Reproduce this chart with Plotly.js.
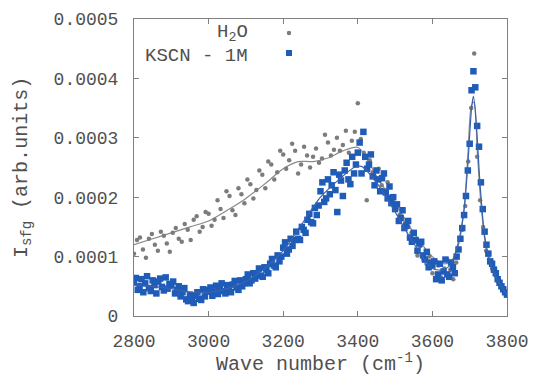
<!DOCTYPE html>
<html>
<head>
<meta charset="utf-8">
<script src="https://cdn.plot.ly/plotly-3.0.1.min.js"></script>
<style>html,body{margin:0;padding:0;background:#fff;}#plot{width:536px;height:376px;}</style>
</head>
<body>
<div id="plot"></div>
<script>
// Values in units of 1e-4 (arb. units)
const kscnStart = 2800, kscnStep = 5;
const kscnY = [
0.57,0.64,0.44,0.50,0.62,0.40,0.55,0.67,0.47,0.42,0.60,0.52,0.38,0.58,0.63,0.49,0.43,0.65,0.46,0.54,
0.52,0.58,0.38,0.44,0.50,0.33,0.40,0.47,0.28,0.25,0.36,0.30,0.22,0.34,0.40,0.29,0.27,0.45,0.33,0.41,
0.44,0.48,0.34,0.40,0.51,0.37,0.45,0.55,0.42,0.38,0.52,0.47,0.40,0.53,0.59,0.48,0.44,0.60,0.50,0.55,
0.62,0.70,0.55,0.60,0.72,0.63,0.70,0.80,0.68,0.66,0.82,0.78,0.72,0.88,0.96,0.85,0.82,1.02,0.92,1.00,
1.15,1.24,1.05,1.12,1.30,1.18,1.28,1.42,1.30,1.28,1.50,1.45,1.40,1.62,1.72,1.58,1.56,1.82,1.70,1.86,
2.10,2.25,1.92,1.98,2.30,2.05,2.20,2.42,2.12,1.75,2.38,2.28,2.02,2.45,2.58,2.30,2.22,2.68,2.40,2.55,
2.75,2.92,2.40,3.10,2.68,2.48,2.55,2.72,2.35,2.20,2.45,2.30,2.10,2.32,2.40,2.08,1.98,2.18,1.90,2.00,
1.80,1.88,1.60,1.65,1.78,1.48,1.52,1.60,1.32,1.25,1.40,1.28,1.10,1.22,1.25,1.02,0.95,1.08,0.82,0.90,
0.85,0.92,0.62,0.70,0.88,0.60,0.75,0.95,0.70,0.66,0.90,0.82,0.72,1.00,1.12,1.30,1.48,1.70,2.02,2.45,
2.90,3.80,4.12,3.85,3.20,2.85,2.25,1.80,1.42,1.20,1.05,0.92,0.88,0.78,0.72,0.62,0.56,0.50,0.45,0.40,
0.36
];
const h2oStart = 2800, h2oStep = 8;
const h2oY = [
1.05,1.28,1.32,1.12,0.98,1.30,1.38,1.20,1.10,1.42,1.35,1.22,1.08,1.40,1.48,1.30,1.25,1.55,1.45,1.28,1.62,1.68,1.42,1.50,1.75,
1.72,1.52,1.62,1.95,1.80,1.65,2.10,2.02,1.78,1.70,2.15,2.05,1.90,2.30,2.22,1.98,2.12,2.45,2.38,2.15,2.60,2.55,2.30,2.42,2.78,
2.72,2.48,2.62,2.90,2.78,2.40,2.55,2.85,2.70,2.50,2.68,2.82,2.58,2.65,3.05,2.92,2.70,2.80,3.00,2.78,2.88,3.12,2.75,2.95,3.10,
3.58,2.98,2.75,1.95,2.62,2.42,2.30,2.48,2.20,2.12,2.25,1.95,2.02,1.88,1.70,1.78,1.58,1.50,1.40,1.25,1.02,1.18,0.95,0.88,1.00,
0.72,0.92,0.85,0.65,0.80,0.95,0.78,0.62,0.90,1.12,1.45,1.85,2.60,3.50,4.42,2.68,1.95,1.50,1.10,0.95,0.80,0.70,0.58,0.50,0.42,
0.35
];
const h2oFitX = [2800,2850,2900,2950,3000,3050,3100,3150,3200,3240,3280,3320,3360,3400,3430,3460,3500,3550,3600,3630,3650,3670,3685,3695,3705,3712,3720,3730,3745,3760,3780,3800];
const h2oFitY = [1.20,1.30,1.40,1.50,1.60,1.78,1.98,2.22,2.48,2.60,2.60,2.66,2.78,2.84,2.58,2.25,1.90,1.40,1.00,0.88,0.92,1.20,1.80,2.70,3.55,3.60,2.80,1.90,1.10,0.78,0.50,0.35];
const kscnFitX = [2800,2850,2900,2950,3000,3050,3100,3150,3200,3250,3300,3350,3390,3410,3450,3500,3550,3600,3630,3650,3670,3685,3695,3705,3710,3718,3728,3740,3755,3775,3800];
const kscnFitY = [0.52,0.50,0.46,0.40,0.40,0.46,0.58,0.80,1.10,1.55,2.00,2.30,2.50,2.52,2.25,1.75,1.22,0.80,0.78,0.88,1.25,1.80,2.55,3.50,3.70,3.20,2.20,1.35,0.90,0.60,0.36];
const yTickVals = [0,1,2,3,4,5];
const yTickText = ["0","0.0001","0.0002","0.0003","0.0004","0.0005"];
const xTickVals = [2800,3000,3200,3400,3600,3800];

const grey = '#7c7c7c', blue = '#1f5cb8', txt = '#505050';
const fam = '"Liberation Mono", "Courier New", monospace';
const tickFont = {family: fam, size: 18, color: txt};
const titleFont = {family: fam, size: 20, color: txt};
const legendFont = {family: fam, size: 19, color: txt};

const traces = [
  {type:'scatter', mode:'lines', x:h2oFitX, y:h2oFitY, line:{color:'#8a8a8a', width:1.2, shape:'spline', smoothing:0.8}, hoverinfo:'skip'},
  {type:'scatter', mode:'markers', x0:h2oStart, dx:h2oStep, y:h2oY, marker:{color:grey, size:4.5, symbol:'circle'}},
  {type:'scatter', mode:'markers', x0:kscnStart, dx:kscnStep, y:kscnY, marker:{color:blue, size:6.5, symbol:'square'}},
  {type:'scatter', mode:'lines', x:kscnFitX, y:kscnFitY, line:{color:'#3a62ad', width:1.2, shape:'spline', smoothing:0.8}, hoverinfo:'skip'}
];

const axisCommon = {showgrid:false, zeroline:false, showline:true, linecolor:'#808080', linewidth:1, mirror:'ticks', ticks:'inside', ticklen:5, tickcolor:'#808080', tickfont:tickFont};

const layout = {
  width:536, height:376,
  margin:{l:134, r:29, t:19, b:60},
  paper_bgcolor:'#ffffff', plot_bgcolor:'#ffffff',
  showlegend:false,
  xaxis: Object.assign({}, axisCommon, {range:[2800,3800], tickvals:xTickVals, ticklabelstandoff:8,
    title:{text:'Wave number (cm<sup>-1</sup>)', font:titleFont, standoff:10}}),
  yaxis: Object.assign({}, axisCommon, {range:[0,5], tickvals:yTickVals, ticktext:yTickText, ticklabelstandoff:11,
    title:{text:'I<sub>sfg</sub> (arb.units)', font:titleFont, standoff:20}}),
  annotations:[
    {xref:'paper', yref:'paper', x:0.312, y:0.953, xanchor:'right', yanchor:'middle', text:'H<sub>2</sub>O', showarrow:false, font:legendFont},
    {xref:'paper', yref:'paper', x:0.312, y:0.877, xanchor:'right', yanchor:'middle', text:'KSCN - 1M', showarrow:false, font:legendFont}
  ],
  shapes:[
    {type:'circle', xref:'paper', yref:'paper', xsizemode:'pixel', ysizemode:'pixel', xanchor:0.4155, yanchor:0.953, x0:-2.2, x1:2.2, y0:-2.2, y1:2.2, fillcolor:grey, line:{width:0}},
    {type:'rect', xref:'paper', yref:'paper', xsizemode:'pixel', ysizemode:'pixel', xanchor:0.4155, yanchor:0.8855, x0:-3, x1:3, y0:-3, y1:3, fillcolor:blue, line:{width:0}}
  ]
};

Plotly.newPlot('plot', traces, layout, {displayModeBar:false, staticPlot:true});
</script>
</body>
</html>
